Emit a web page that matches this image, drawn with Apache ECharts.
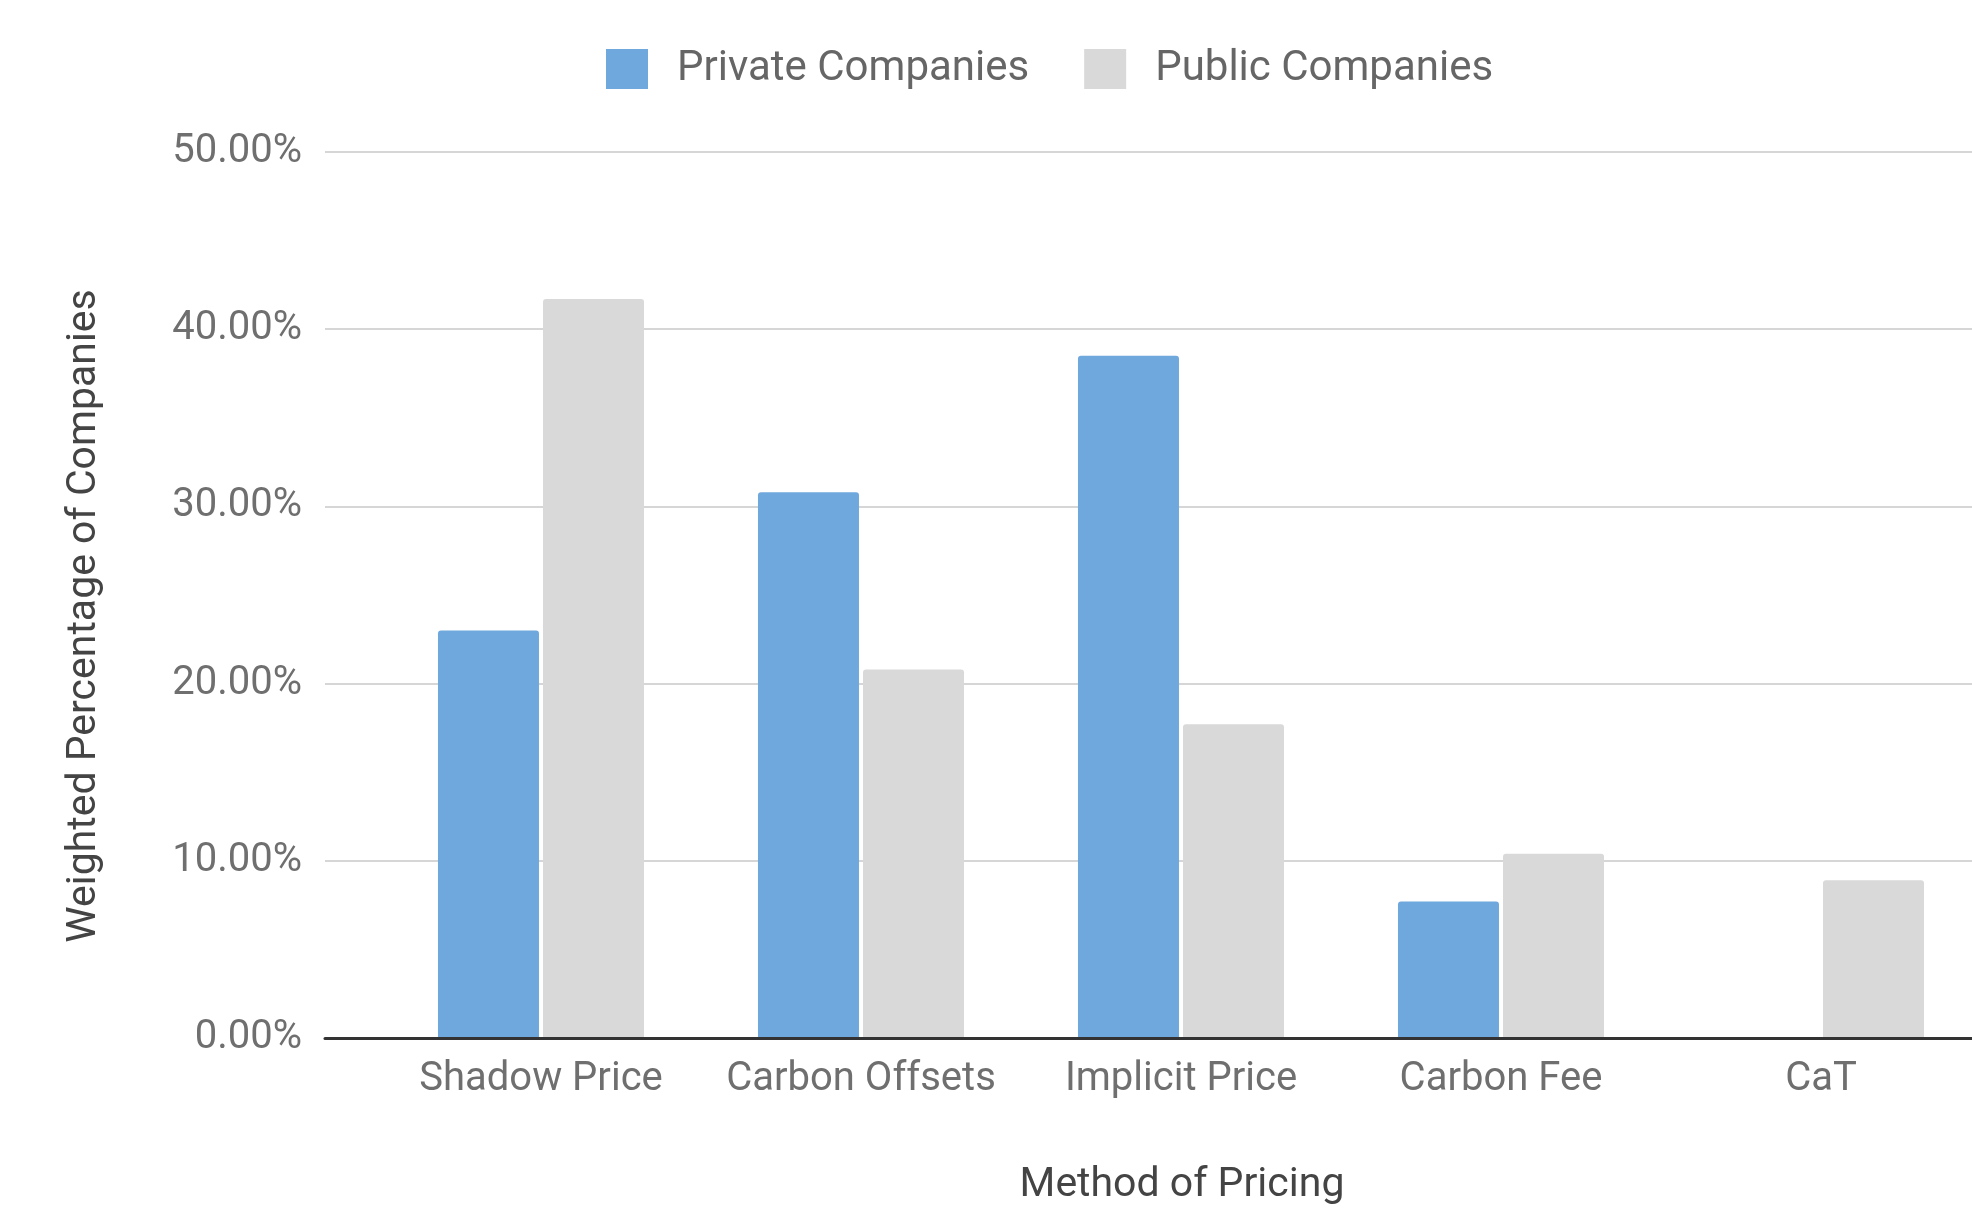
<!DOCTYPE html>
<html>
<head>
<meta charset="utf-8">
<title>Method of Pricing</title>
<script src="https://cdn.jsdelivr.net/npm/echarts@6/dist/echarts.min.js"></script>
<style>
  html, body { margin: 0; padding: 0; background: #ffffff; overflow: hidden; }
  #chart { width: 1972px; height: 1216px; }
</style>
</head>
<body>
<div id="chart"></div>
<script>
// Pricing methods and weighted share of companies using each (percent)
const categories = ['Shadow Price', 'Carbon Offsets', 'Implicit Price', 'Carbon Fee', 'CaT'];
const privateCompanies = [23.0, 30.8, 38.5, 7.7, null];
const publicCompanies = [41.7, 20.8, 17.7, 10.4, 8.9];
const yMin = 0;
const yMax = 50;
const yStep = 10;

const FONT = 'Roboto, "Noto Sans", sans-serif';
const chart = echarts.init(document.getElementById('chart'), null, { renderer: 'canvas' });

chart.setOption({
  backgroundColor: '#ffffff',
  animation: false,
  textStyle: { fontFamily: FONT },
  legend: {
    left: 606,
    top: 48,
    padding: 0,
    itemWidth: 42,
    itemHeight: 40,
    itemGap: 55,
    icon: 'rect',
    textStyle: { fontSize: 42, color: '#666666', fontFamily: FONT, padding: [0, 0, 0, 24] },
    data: ['Private Companies', 'Public Companies']
  },
  grid: [
    // plot frame: gridlines, baseline and axis titles
    { left: 325, top: 152, width: 1714, height: 886, containLabel: false, outerBoundsMode: 'none' },
    // bar area: category bands inset from the frame
    { left: 381, top: 152, width: 1600, height: 886, containLabel: false, outerBoundsMode: 'none' }
  ],
  xAxis: [
    {
      gridIndex: 0,
      type: 'category',
      data: [''],
      z: 5,
      axisLine: { show: true, lineStyle: { color: '#333333', width: 3 } },
      axisTick: { show: false },
      axisLabel: { show: false },
      splitLine: { show: false },
      name: 'Method of Pricing',
      nameLocation: 'middle',
      nameGap: 127,
      nameTextStyle: { fontSize: 41, color: '#444444', fontFamily: FONT }
    },
    {
      gridIndex: 1,
      type: 'category',
      data: categories,
      axisLine: { show: false },
      axisTick: { show: false },
      splitLine: { show: false },
      axisLabel: { fontSize: 40, color: '#6f6f6f', margin: 22, fontFamily: FONT, interval: 0 }
    }
  ],
  yAxis: [
    {
      gridIndex: 0,
      type: 'value',
      min: yMin,
      max: yMax,
      interval: yStep,
      axisLine: { show: false },
      axisTick: { show: false },
      axisLabel: {
        fontSize: 40,
        color: '#6f6f6f',
        margin: 23,
        fontFamily: FONT,
        formatter: v => v.toFixed(2) + '%'
      },
      splitLine: { lineStyle: { color: '#d6d6d6', width: 2 } },
      name: 'Weighted Percentage of Companies',
      nameLocation: 'middle',
      nameGap: 220,
      nameRotate: 90,
      nameTextStyle: { fontSize: 41, color: '#444444', fontFamily: FONT, padding: [0, 42, 0, 0] }
    },
    {
      gridIndex: 1,
      type: 'value',
      min: yMin,
      max: yMax,
      interval: yStep,
      show: false,
      splitLine: { show: false }
    }
  ],
  series: [
    {
      name: 'Private Companies',
      type: 'bar',
      xAxisIndex: 1,
      yAxisIndex: 1,
      data: privateCompanies,
      barWidth: 101,
      barGap: '4%',
      itemStyle: { color: '#6fa8dc', borderRadius: [3, 3, 0, 0] }
    },
    {
      name: 'Public Companies',
      type: 'bar',
      xAxisIndex: 1,
      yAxisIndex: 1,
      data: publicCompanies,
      barWidth: 101,
      barGap: '4%',
      itemStyle: { color: '#d9d9d9', borderRadius: [3, 3, 0, 0] }
    }
  ]
});
</script>
</body>
</html>
